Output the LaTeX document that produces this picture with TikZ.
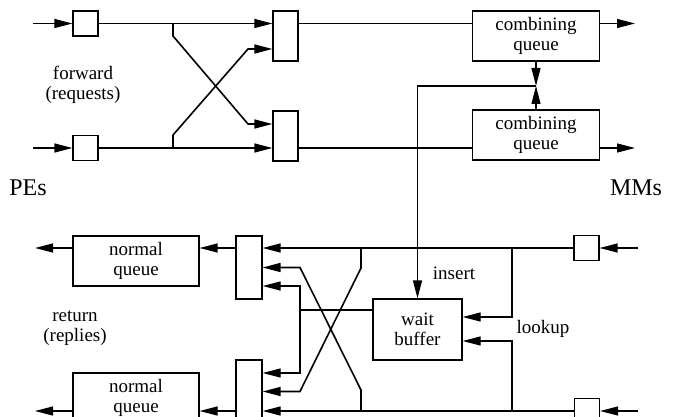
\documentclass[tikz,border=0pt]{standalone}
\usepackage{fontspec}
\setmainfont{Liberation Serif}
\usetikzlibrary{arrows.meta,calc,positioning}

\begin{document}
\begin{tikzpicture}[x=1pt,y=-1pt,>={Triangle[length=18pt,width=9pt]},
  line width=1.2pt,
  every node/.style={font=\fontsize{19}{20}\selectfont,align=center},
  box/.style={draw,line width=1.2pt,inner sep=0pt},
  sq/.style={box,minimum width=25pt,minimum height=25pt},
  sw/.style={box,minimum width=25pt,minimum height=50pt},
  swr/.style={box,minimum width=26pt,minimum height=63pt},
  qbox/.style={box,minimum width=126pt,minimum height=50pt},
  cross/.style={line width=1.6pt},
  big/.style={font=\fontsize{24}{28}\selectfont}]
  \useasboundingbox (0,0) rectangle (679,417);
  \clip (0,0) rectangle (679,417);

  % 前向网络（请求）
  \coordinate (inA) at (33,23.5);
  \coordinate (inB) at (33,148);
  \node[sq] (s1) at (85.5,23.5) {};
  \node[sq] (s2) at (85.5,148) {};
  \node[sw] (t1) at (285.5,36) {};
  \node[sw] (t2) at (285.5,136) {};
  \node[qbox,minimum width=127pt] (cq1) at (536,36) {combining\\queue};
  \node[qbox,minimum width=127pt] (cq2) at (536,135) {combining\\queue};
  \coordinate (outA) at (635,23.5);
  \coordinate (outB) at (635,148);
  \draw[->] (inA) -- (s1);
  \draw[->] (inB) -- (s2);
  \draw[->] (s1) -- (t1.west |- s1);
  \draw[->] (s2) -- (t2.west |- s2);
  \draw (t1.east |- s1) -- (cq1.west |- s1);
  \draw (t2.east |- s2) -- (cq2.west |- s2);
  \draw[->] (cq1.east |- s1) -- (outA);
  \draw[->] (cq2.east |- s2) -- (outB);
  % 交叉连线
  \coordinate (ja) at (173,23.5);
  \coordinate (jb) at (173,148);
  \draw[cross,->] (ja) -- ++(0,12.5) -- (248,124) -- ([yshift=12pt]t2.west);
  \draw[cross,->] (jb) -- ++(0,-13) -- (248,49) -- ([yshift=-13pt]t1.west);

  % 合并队列 -> 等待缓冲
  \coordinate (cj) at (536,86);
  \draw[->] (cq1) -- (cj);
  \draw[->] (cq2) -- (cj);

  % 返回网络（应答）
  \coordinate (inC) at (638,248);
  \coordinate (inD) at (638,411);
  \coordinate (outC) at (35,248);
  \coordinate (outD) at (35,411);
  \node[sq] (r1) at (586.5,248) {};
  \node[sq] (r2) at (587,411) {};
  \node[swr] (t3) at (249,267.5) {};
  \node[swr] (t4) at (249,391.5) {};
  \node[qbox] (nq1) at (136,261) {normal\\queue};
  \node[qbox] (nq2) at (136,398) {normal\\queue};
  \node[box,minimum width=89pt,minimum height=61pt] (wb) at (417.5,329.5) {wait\\buffer};
  \draw[->] (cj) -| (wb.north);
  \draw[->] (inC) -- (r1);
  \draw[->] (inD) -- (r2);
  \draw[->] (r1) -- (t3.east |- r1);
  \draw[->] (r2) -- (t4.east |- r2);
  \draw[->] (t3.west |- r1) -- (nq1.east |- r1);
  \draw[->] (t4.west |- r2) -- (nq2.east |- r2);
  \draw[->] (nq1.west |- r1) -- (outC);
  \draw[->] (nq2.west |- r2) -- (outD);
  % 查找
  \coordinate (lu) at (512,248);
  \coordinate (ld) at (512,411);
  \draw[->] (lu) |- ([yshift=12.5pt]wb.east);
  \draw[->] (ld) |- ([yshift=-11.5pt]wb.east);
  % 等待缓冲输出
  \coordinate (br) at (300,310);
  \draw (wb.west |- br) -- (br);
  \draw[->] (br) |- ([yshift=-18.5pt]t3.east);
  \draw[->] (br) |- ([yshift=18.5pt]t4.east);
  % 交叉连线
  \coordinate (ca) at (361,248);
  \coordinate (cb) at (361,411);
  \draw[cross,->] (ca) -- ++(0,20) -- (300,391.5) -- (t4.east);
  \draw[cross,->] (cb) -- ++(0,-21) -- (300,267.5) -- (t3.east);

  % 文字标注
  \node (fw) at (83,85) {forward\\(requests)};
  \node (rt) at (75,328) {return\\(replies)};
  \node[big] (pe) at (28,188) {PEs};
  \node[big] (mm) at (636,188) {MMs};
  \node (ins) at (454,273) {insert};
  \node (lk) at (543,329) {lookup};
\end{tikzpicture}
\end{document}
